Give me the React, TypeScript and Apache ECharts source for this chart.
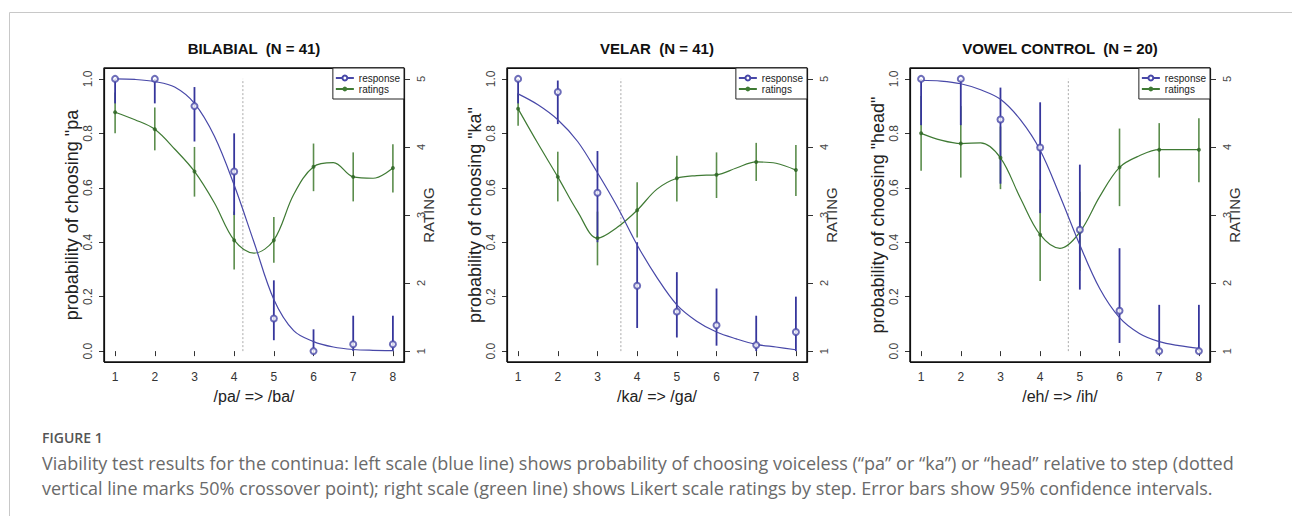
import React, { useEffect, useRef } from "react";
import * as echarts from "echarts";

// ---------- DATA ----------
const steps = [1, 2, 3, 4, 5, 6, 7, 8];
const fitSteps = [1, 1.5, 2, 2.5, 3, 3.5, 4, 4.5, 5, 5.5, 6, 6.5, 7, 7.5, 8];
const probTicks = [0, 0.2, 0.4, 0.6, 0.8, 1.0];
const ratingTicks = [1, 2, 3, 4, 5];

const panelTitles = ["BILABIAL  (N = 41)", "VELAR  (N = 41)", "VOWEL CONTROL  (N = 20)"];
const xTitles = ["/pa/ => /ba/", "/ka/ => /ga/", "/eh/ => /ih/"];
const yTitles = ['probability of choosing "pa', 'probability of choosing "ka"', 'probability of choosing "head"'];
const crossovers = [4.22, 3.59, 4.71];

// BILABIAL
const bilabialResponse = [1.0, 1.0, 0.9, 0.66, 0.12, 0.0, 0.025, 0.025];
const bilabialResponseLo = [0.91, 0.91, 0.77, 0.5, 0.04, 0.0, 0.0, 0.0];
const bilabialResponseHi = [1.0, 1.0, 0.97, 0.8, 0.26, 0.08, 0.13, 0.13];
const bilabialFit = [1.0, 0.998, 0.99, 0.97, 0.91, 0.79, 0.61, 0.4, 0.19, 0.075, 0.035, 0.015, 0.006, 0.003, 0.002];
const bilabialRatings = [4.51, 4.26, 3.64, 2.63, 2.63, 3.71, 3.56, 3.69];
const bilabialRatingsLo = [4.2, 3.95, 3.27, 2.2, 2.3, 3.35, 3.2, 3.33];
const bilabialRatingsHi = [4.8, 4.58, 4.0, 3.05, 2.97, 4.05, 3.92, 4.04];
const bilabialRatingsFit = [4.51, 4.4, 4.26, 3.97, 3.64, 3.18, 2.63, 2.44, 2.63, 3.3, 3.71, 3.77, 3.56, 3.54, 3.69];

// VELAR
const velarResponse = [1.0, 0.952, 0.582, 0.24, 0.145, 0.095, 0.022, 0.07];
const velarResponseLo = [0.91, 0.834, 0.4, 0.085, 0.05, 0.02, 0.0, 0.0];
const velarResponseHi = [1.0, 0.994, 0.735, 0.4, 0.29, 0.23, 0.13, 0.2];
const velarFit = [0.945, 0.905, 0.85, 0.77, 0.655, 0.53, 0.39, 0.27, 0.17, 0.11, 0.07, 0.045, 0.025, 0.015, 0.005];
const velarRatings = [4.56, 3.56, 2.66, 3.07, 3.54, 3.59, 3.78, 3.66];
const velarRatingsLo = [4.31, 3.2, 2.26, 2.67, 3.2, 3.25, 3.5, 3.28];
const velarRatingsHi = [4.79, 3.93, 3.05, 3.48, 3.87, 3.92, 4.06, 4.03];
const velarRatingsFit = [4.56, 4.05, 3.56, 3.05, 2.66, 2.82, 3.07, 3.38, 3.54, 3.58, 3.59, 3.69, 3.78, 3.76, 3.66];

// VOWEL CONTROL
const vowelResponse = [1.0, 1.0, 0.851, 0.748, 0.446, 0.148, 0.0, 0.0];
const vowelResponseLo = [0.83, 0.83, 0.615, 0.507, 0.226, 0.03, 0.0, 0.0];
const vowelResponseHi = [1.0, 1.0, 0.968, 0.914, 0.685, 0.378, 0.17, 0.17];
const vowelFit = [0.995, 0.992, 0.982, 0.96, 0.925, 0.85, 0.738, 0.57, 0.39, 0.23, 0.123, 0.065, 0.035, 0.02, 0.01];
const vowelRatings = [4.2, 4.05, 3.84, 2.71, 2.75, 3.7, 3.96, 3.96];
const vowelRatingsLo = [3.65, 3.55, 3.38, 2.03, 2.18, 3.13, 3.55, 3.48];
const vowelRatingsHi = [4.75, 4.6, 4.3, 3.37, 3.34, 4.27, 4.35, 4.42];
const vowelRatingsFit = [4.2, 4.1, 4.05, 4.06, 3.84, 3.25, 2.71, 2.51, 2.75, 3.27, 3.7, 3.87, 3.96, 3.96, 3.96];

const captionLabel = "FIGURE 1";
const captionLine1 =
  "Viability test results for the continua: left scale (blue line) shows probability of choosing voiceless (\u201Cpa\u201D or \u201Cka\u201D) or \u201Chead\u201D relative to step (dotted";
const captionLine2 =
  "vertical line marks 50% crossover point); right scale (green line) shows Likert scale ratings by step. Error bars show 95% confidence intervals.";

// axis extents (R-style 4% padding)
const xMin = 0.72;
const xMax = 8.28;
const probMin = -0.04;
const probMax = 1.04;
const ratingMin = 0.84;
const ratingMax = 5.16;

// ---------- STYLE ----------
const BLUE = "#4848a8";
const BLUE_BAR = "#36369c";
const GREEN = "#3f7a34";
const GREEN_BAR = "#5b8d4c";
const FONT = "Liberation Sans, Arial, sans-serif";

const panels = [
  {
    resp: bilabialResponse, respLo: bilabialResponseLo, respHi: bilabialResponseHi, fit: bilabialFit,
    rat: bilabialRatings, ratLo: bilabialRatingsLo, ratHi: bilabialRatingsHi, ratFit: bilabialRatingsFit,
  },
  {
    resp: velarResponse, respLo: velarResponseLo, respHi: velarResponseHi, fit: velarFit,
    rat: velarRatings, ratLo: velarRatingsLo, ratHi: velarRatingsHi, ratFit: velarRatingsFit,
  },
  {
    resp: vowelResponse, respLo: vowelResponseLo, respHi: vowelResponseHi, fit: vowelFit,
    rat: vowelRatings, ratLo: vowelRatingsLo, ratHi: vowelRatingsHi, ratFit: vowelRatingsFit,
  },
];

const gridLefts = [104, 507, 910];
const gridW = 300;
const gridTop = 68;
const gridH = 294;

function errorBarSeries(name: string, xIdx: number, yIdx: number, xs: number[], lo: number[], hi: number[], color: string, width: number) {
  return {
    type: "custom",
    name,
    xAxisIndex: xIdx,
    yAxisIndex: yIdx,
    encode: { x: 0, y: [1, 2] },
    data: xs.map((x, i) => [x, lo[i], hi[i]]),
    renderItem: (params: any, api: any) => {
      const p1 = api.coord([api.value(0), api.value(1)]);
      const p2 = api.coord([api.value(0), api.value(2)]);
      return {
        type: "line",
        shape: { x1: p1[0], y1: p1[1], x2: p2[0], y2: p2[1] },
        style: { stroke: color, lineWidth: width },
      };
    },
    z: 2,
  };
}

function buildOption() {
  const grid: any[] = [];
  const xAxis: any[] = [];
  const yAxis: any[] = [];
  const series: any[] = [];
  const legend: any[] = [];
  const graphic: any[] = [];

  panels.forEach((p, i) => {
    grid.push({ left: gridLefts[i], top: gridTop, width: gridW, height: gridH });
    xAxis.push({
      type: "value", gridIndex: i, min: xMin, max: xMax,
      axisLine: { show: false },
      axisTick: { show: true, customValues: steps, length: 5, lineStyle: { color: "#333" } },
      axisLabel: { customValues: steps, fontSize: 12, margin: 9, color: "#333", fontFamily: FONT },
      splitLine: { show: false },
      name: xTitles[i], nameLocation: "middle", nameGap: 26, nameMoveOverlap: false,
      nameTextStyle: { fontSize: 16, color: "#222", fontFamily: FONT },
    });
    yAxis.push({
      type: "value", gridIndex: i, min: probMin, max: probMax, position: "left",
      axisLine: { show: false },
      axisTick: { show: true, customValues: probTicks, length: 5, lineStyle: { color: "#333" } },
      axisLabel: {
        customValues: probTicks, rotate: 90, fontSize: 12, margin: 10, color: "#444", fontFamily: FONT,
        formatter: (v: number) => v.toFixed(1),
      },
      splitLine: { show: false },
      name: yTitles[i], nameLocation: "middle", nameRotate: 90, nameGap: 23, nameMoveOverlap: false,
      nameTextStyle: { fontSize: 18, color: "#222", fontFamily: FONT },
    });
    yAxis.push({
      type: "value", gridIndex: i, min: ratingMin, max: ratingMax, position: "right",
      axisLine: { show: false },
      axisTick: { show: true, customValues: ratingTicks, length: 6, lineStyle: { color: "#333" } },
      axisLabel: { customValues: ratingTicks, rotate: 90, fontSize: 11, margin: 11, color: "#444", fontFamily: FONT },
      splitLine: { show: false },
      name: "RATING", nameLocation: "middle", nameRotate: 90, nameGap: 17, nameMoveOverlap: false,
      nameTextStyle: { fontSize: 15, color: "#333", fontFamily: FONT },
    });

    const yl = 2 * i;
    const yr = 2 * i + 1;

    // plot frame along the axis extents
    series.push({
      type: "line", name: "frame" + i, xAxisIndex: i, yAxisIndex: yl,
      data: [[xMin, probMin], [xMax, probMin], [xMax, probMax], [xMin, probMax], [xMin, probMin]],
      symbol: "none", clip: false, silent: true,
      lineStyle: { color: "#111", width: 1.5 }, z: 9,
    });
    // crossover dotted line
    series.push({
      type: "line", name: "crossover" + i, xAxisIndex: i, yAxisIndex: yl,
      data: [[crossovers[i], 0], [crossovers[i], 1]],
      symbol: "none", lineStyle: { color: "#aaa", width: 1, type: [2, 2] }, z: 1,
    });
    // ratings error bars
    series.push(errorBarSeries("ratingsCI" + i, i, yr, steps, p.ratLo, p.ratHi, GREEN_BAR, 1.6));
    // ratings curve
    series.push({
      type: "line", name: "ratings", xAxisIndex: i, yAxisIndex: yr,
      data: fitSteps.map((x, k) => [x, p.ratFit[k]]),
      smooth: 0.35, symbol: "circle", showSymbol: false, symbolSize: 4,
      lineStyle: { color: GREEN, width: 1.2 }, itemStyle: { color: GREEN }, z: 3,
    });
    // ratings points
    series.push({
      type: "scatter", name: "ratingsPts" + i, xAxisIndex: i, yAxisIndex: yr,
      data: steps.map((x, k) => [x, p.rat[k]]),
      symbol: "circle", symbolSize: 4, itemStyle: { color: "#2c6422" }, z: 4,
    });
    // response error bars
    series.push(errorBarSeries("responseCI" + i, i, yl, steps, p.respLo, p.respHi, BLUE_BAR, 1.8));
    // response curve
    series.push({
      type: "line", name: "response", xAxisIndex: i, yAxisIndex: yl,
      data: fitSteps.map((x, k) => [x, p.fit[k]]),
      smooth: 0.35, symbol: "emptyCircle", showSymbol: false, symbolSize: 6,
      lineStyle: { color: BLUE, width: 1.2 }, itemStyle: { color: BLUE }, z: 5,
    });
    // response points
    series.push({
      type: "scatter", name: "responsePts" + i, xAxisIndex: i, yAxisIndex: yl,
      data: steps.map((x, k) => [x, p.resp[k]]),
      symbol: "emptyCircle", symbolSize: 6,
      itemStyle: { color: BLUE, borderWidth: 1.2 }, z: 6,
    });

    legend.push({
      data: ["response", "ratings"],
      orient: "vertical",
      right: 1292 - (gridLefts[i] + gridW),
      top: gridTop,
      itemWidth: 18, itemHeight: 6, itemGap: 1, itemTextGap: 8,
      padding: [5, 4, 5, 2],
      borderColor: "#222", borderWidth: 1, backgroundColor: "#fff",
      textStyle: { fontSize: 10, color: "#222", fontFamily: FONT, lineHeight: 10 },
      selectedMode: false,
      z: 10,
    });

    // box outline as four separate lines
    const L = gridLefts[i] + 0.5;
    const T = gridTop + 0.5;
    const R = gridLefts[i] + gridW + 0.5;
    const B = gridTop + gridH + 0.5;
    const edges = [
      [L, T, R, T],
      [R, T, R, B],
      [L, B, R, B],
      [L, T, L, B],
    ];
    edges.forEach((e) => {
      graphic.push({
        type: "line",
        shape: { x1: e[0], y1: e[1], x2: e[2], y2: e[3] },
        style: { stroke: "#111", lineWidth: 1.2 },
      });
    });
    graphic.push({
      type: "text",
      x: gridLefts[i] + gridW / 2, y: 48,
      style: {
        text: panelTitles[i], fill: "#111", font: "bold 15px " + FONT,
        textAlign: "center", textVerticalAlign: "middle",
      },
    });
  });

  graphic.push({
    type: "polyline",
    shape: { points: [[9.5, 516], [9.5, 12.5], [1292, 12.5]] },
    style: { stroke: "#c8c8c8", lineWidth: 1, fill: null },
  });
  graphic.push({
    type: "text", x: 42, y: 437,
    style: { text: captionLabel, fill: "#555", font: "600 14px Open Sans, sans-serif", textVerticalAlign: "middle" },
  });
  graphic.push({
    type: "text", x: 42, y: 463,
    style: { text: captionLine1, fill: "#6a6a6a", font: "18px Open Sans, sans-serif", textVerticalAlign: "middle" },
  });
  graphic.push({
    type: "text", x: 42, y: 488,
    style: { text: captionLine2, fill: "#6a6a6a", font: "18px Open Sans, sans-serif", textVerticalAlign: "middle" },
  });

  return {
    animation: false,
    backgroundColor: "#fff",
    grid, xAxis, yAxis, series, legend, graphic,
  };
}

export default function App() {
  const ref = useRef<HTMLDivElement>(null);
  useEffect(() => {
    if (!ref.current) return;
    const chart = echarts.init(ref.current, null, { renderer: "svg" });
    chart.setOption(buildOption() as any);
    return () => chart.dispose();
  }, []);
  return (
    <div
      ref={ref}
      style={{ position: "absolute", left: 0, top: 0, width: 1292, height: 516, background: "#fff" }}
    />
  );
}
